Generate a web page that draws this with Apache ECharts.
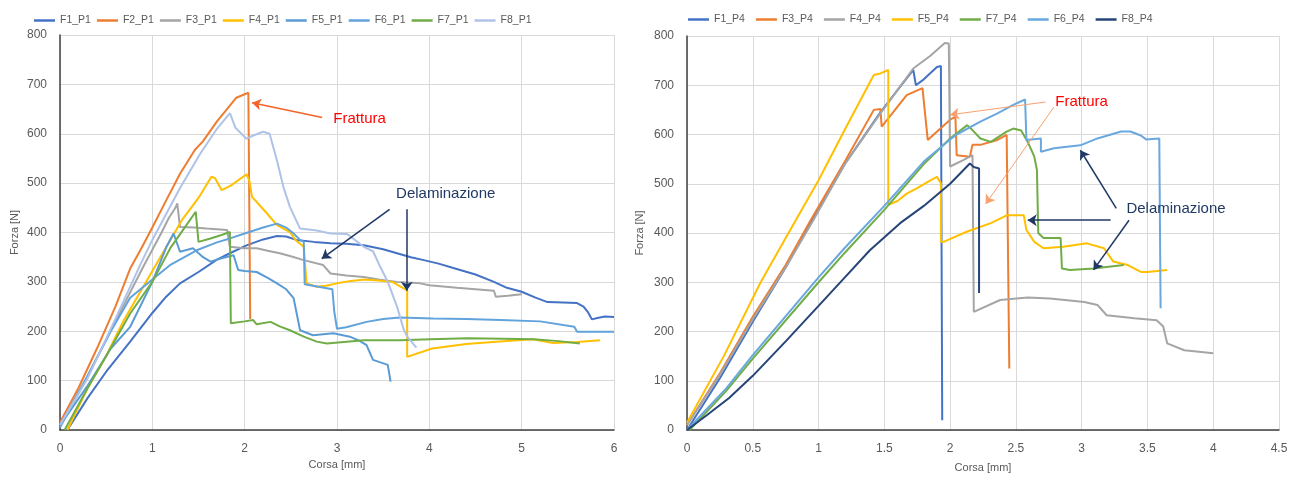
<!DOCTYPE html>
<html>
<head>
<meta charset="utf-8">
<script src="https://cdn.jsdelivr.net/npm/echarts@6/dist/echarts.min.js"></script>
<style>
  html, body { margin: 0; padding: 0; background: #fff; }
  #chart { width: 1300px; height: 480px; }
</style>
</head>
<body>
<div id="chart"></div>
<script>
// ---- Prova P1: corsa [mm] / forza [N] ----
const namesP1 = ['F1_P1', 'F2_P1', 'F3_P1', 'F4_P1', 'F5_P1', 'F6_P1', 'F7_P1', 'F8_P1'];

const f1p1 = [[0.08,0],[0.3,65],[0.5,118],[0.76,179],[1.0,237],[1.15,270],[1.3,297],[1.5,320],[1.7,345],[1.84,358],[2.02,374],[2.2,386],[2.35,393],[2.45,392],[2.56,385],[2.75,381],[2.93,378],[3.1,377],[3.29,374],[3.5,366],[3.65,358],[3.8,350],[3.94,344],[4.1,337],[4.26,328],[4.5,315],[4.7,300],[4.84,288],[5.0,280],[5.15,268],[5.28,259],[5.45,258],[5.6,257],[5.67,250],[5.72,238],[5.76,224],[5.82,227],[5.9,230],[6.0,229]];
const f2p1 = [[0,15],[0.2,85],[0.4,165],[0.6,250],[0.76,327],[0.87,364],[1.0,410],[1.15,465],[1.3,519],[1.46,567],[1.55,585],[1.7,625],[1.8,648],[1.91,673],[2.0,680],[2.04,683],[2.06,681],[2.06,225]];
const f3p1 = [[0,10],[0.3,110],[0.6,220],[0.9,330],[1.1,400],[1.18,430],[1.25,450],[1.27,459],[1.3,411],[1.45,410],[1.59,408],[1.81,405],[1.84,371],[1.99,368],[2.13,368],[2.25,363],[2.38,358],[2.5,352],[2.64,344],[2.85,334],[2.93,317],[3.1,313],[3.29,310],[3.45,305],[3.65,300],[3.9,297],[4.0,293],[4.3,288],[4.5,285],[4.7,282],[4.72,270],[4.85,272],[5.0,275]];
const f4p1 = [[0.08,0],[0.3,85],[0.5,150],[0.69,222],[1.0,322],[1.32,425],[1.5,470],[1.64,513],[1.68,510],[1.75,486],[1.85,495],[2.02,518],[2.05,505],[2.08,472],[2.24,439],[2.35,415],[2.49,401],[2.55,385],[2.64,371],[2.67,297],[2.78,290],[2.88,292],[3.0,297],[3.15,302],[3.3,305],[3.45,303],[3.6,300],[3.72,287],[3.76,283],[3.76,148],[4.03,165],[4.4,174],[4.76,179],[5.12,184],[5.34,176],[5.6,178],[5.85,182]];
const f5p1 = [[0,10],[0.3,90],[0.55,165],[0.76,209],[1.0,300],[1.15,370],[1.23,398],[1.3,361],[1.38,365],[1.44,368],[1.55,350],[1.63,341],[1.75,348],[1.88,354],[1.93,324],[2.0,322],[2.13,320],[2.25,308],[2.35,297],[2.45,285],[2.53,267],[2.6,202],[2.74,192],[2.96,196],[3.14,189],[3.25,180],[3.32,172],[3.39,142],[3.55,132],[3.58,98]];
const f6p1 = [[0,5],[0.3,110],[0.55,200],[0.76,268],[1.0,305],[1.2,335],[1.48,364],[1.7,380],[1.84,388],[2.0,398],[2.2,410],[2.35,418],[2.45,410],[2.53,398],[2.6,385],[2.64,381],[2.65,295],[2.8,290],[2.95,285],[2.97,240],[3.0,205],[3.1,208],[3.32,219],[3.5,225],[3.68,228],[4.04,226],[4.4,225],[4.77,223],[5.2,220],[5.57,209],[5.6,199],[6.0,199]];
const f7p1 = [[0.05,0],[0.3,85],[0.5,150],[0.76,236],[1.0,300],[1.2,370],[1.35,410],[1.47,442],[1.5,381],[1.63,388],[1.75,395],[1.84,401],[1.85,216],[2.0,220],[2.09,223],[2.13,214],[2.28,219],[2.38,210],[2.49,202],[2.64,189],[2.78,179],[2.89,175],[3.29,182],[3.68,182],[4.01,184],[4.41,186],[4.8,185],[5.13,184],[5.4,180],[5.63,175]];
const f8p1 = [[0,10],[0.3,105],[0.6,225],[0.87,335],[1.0,385],[1.3,490],[1.52,560],[1.7,610],[1.84,642],[1.9,612],[2.02,590],[2.1,597],[2.2,604],[2.27,600],[2.35,546],[2.42,492],[2.49,452],[2.6,408],[2.78,404],[2.93,398],[3.11,397],[3.29,371],[3.39,362],[3.47,330],[3.55,300],[3.65,250],[3.72,205],[3.76,189],[3.86,167]];

// ---- Prova P4 ----
const namesP4 = ['F1_P4', 'F3_P4', 'F4_P4', 'F5_P4', 'F7_P4', 'F6_P4', 'F8_P4'];

const f1p4 = [[0,0],[0.25,105],[0.5,220],[0.75,330],[0.95,426],[1.2,540],[1.47,645],[1.6,690],[1.72,731],[1.74,700],[1.8,712],[1.9,737],[1.93,739],[1.94,20]];
const f3p4 = [[0,10],[0.25,115],[0.5,230],[0.75,335],[0.94,426],[1.2,545],[1.42,650],[1.47,652],[1.48,616],[1.67,680],[1.79,694],[1.8,690],[1.83,589],[2.0,630],[2.04,636],[2.05,558],[2.15,555],[2.17,579],[2.23,579],[2.36,589],[2.43,599],[2.44,599],[2.45,125]];
const f4p4 = [[0,10],[0.25,112],[0.5,225],[0.75,330],[0.96,426],[1.2,540],[1.47,643],[1.6,690],[1.72,734],[1.85,760],[1.96,786],[1.99,785],[2.0,535],[2.1,548],[2.17,558],[2.18,240],[2.38,264],[2.59,269],[2.76,267],[3.02,260],[3.12,254],[3.19,233],[3.4,227],[3.57,223],[3.62,210],[3.65,176],[3.78,162],[4.0,156]];
const f5p4 = [[0,15],[0.28,150],[0.56,300],[0.75,390],[1.0,507],[1.2,610],[1.42,721],[1.47,724],[1.53,731],[1.53,457],[1.6,465],[1.67,480],[1.75,491],[1.85,507],[1.9,514],[1.93,501],[1.93,382],[1.95,382],[2.13,403],[2.31,420],[2.43,436],[2.56,436],[2.58,406],[2.64,382],[2.71,369],[2.86,372],[3.04,379],[3.17,369],[3.24,342],[3.35,335],[3.45,321],[3.5,321],[3.65,325]];
const f7p4 = [[0.02,0],[0.3,80],[0.5,145],[1.0,300],[1.2,360],[1.5,447],[1.8,540],[2.0,592],[2.13,619],[2.17,609],[2.23,592],[2.31,585],[2.43,606],[2.48,612],[2.54,608],[2.59,585],[2.64,555],[2.66,528],[2.67,400],[2.71,390],[2.84,390],[2.85,328],[2.91,325],[3.09,328],[3.32,335]];
const f6p4 = [[0,0],[0.3,85],[0.5,152],[1.0,310],[1.2,370],[1.5,455],[1.8,545],[2.0,590],[2.05,600],[2.23,626],[2.36,643],[2.48,660],[2.57,671],[2.58,673],[2.58,589],[2.69,592],[2.69,565],[2.79,572],[2.99,578],[3.12,592],[3.3,606],[3.37,606],[3.45,598],[3.49,590],[3.59,592],[3.6,592],[3.6,247]];
const f8p4 = [[0,0],[0.15,30],[0.32,65],[0.5,110],[0.75,180],[1.0,252],[1.2,310],[1.39,365],[1.62,420],[1.8,455],[2.0,500],[2.15,541],[2.18,534],[2.22,531],[2.22,278]];

const xTicksP1 = { min: 0, max: 6, interval: 1 };
const xTicksP4 = { min: 0, max: 4.5, interval: 0.5 };
const yTicks = { min: 0, max: 800, interval: 100 };

const coloursP1 = ['#4472C4', '#ED7D31', '#A5A5A5', '#FFC000', '#5B9BD5', '#62A3DC', '#70AD47', '#AFC2E8'];
const coloursP4 = ['#4472C4', '#ED7D31', '#A5A5A5', '#FFC000', '#70AD47', '#68A8DF', '#264478'];

const FONT = "'Liberation Sans', Arial, sans-serif";
const AXIS_TXT = '#595959';
const NAVY = '#203864';
const ORANGE_ARROW = '#F4642A';

function curve(name, data, colour, idx) {
  return {
    name, type: 'line', data, xAxisIndex: idx, yAxisIndex: idx,
    showSymbol: false, symbol: 'none', smooth: false,
    lineStyle: { width: 2, color: colour }, itemStyle: { color: colour },
    emphasis: { disabled: true }, animation: false, z: 3
  };
}

function arrow(from, to, colour, width) {
  return [
    { coord: from, lineStyle: { color: colour, width: width, type: 'solid' } },
    { coord: to }
  ];
}

function note(text, at, colour) {
  return {
    name: text, coord: at, symbol: 'circle', symbolSize: 0,
    label: { show: true, position: 'right', distance: 0, formatter: '{b}',
             color: colour, fontSize: 15, fontFamily: FONT }
  };
}

function annotations(idx, arrows, notes) {
  return {
    name: 'annot' + idx, type: 'line', data: [], xAxisIndex: idx, yAxisIndex: idx,
    silent: true, animation: false, z: 5,
    markLine: { silent: true, animation: false, symbol: ['none', 'arrow'], symbolSize: 9,
                label: { show: false }, data: arrows },
    markPoint: { silent: true, animation: false, data: notes }
  };
}

const p1Data = [f1p1, f2p1, f3p1, f4p1, f5p1, f6p1, f7p1, f8p1];
const p4Data = [f1p4, f3p4, f4p4, f5p4, f7p4, f6p4, f8p4];

const series = [];
namesP1.forEach((n, i) => series.push(curve(n, p1Data[i], coloursP1[i], 0)));
namesP4.forEach((n, i) => series.push(curve(n, p4Data[i], coloursP4[i], 1)));

series.push(annotations(0, [
  arrow([2.84, 633], [2.08, 663], ORANGE_ARROW, 1.5),
  arrow([3.57, 447], [2.835, 347], NAVY, 1.5),
  arrow([3.756, 447], [3.756, 282], NAVY, 1.5)
], [
  note('Frattura', [2.96, 631], '#FF0000'),
  note('Delaminazione', [3.64, 478], NAVY)
]));
series.push(annotations(1, [
  arrow([2.725, 666], [2.0, 640], '#F8A070', 1),
  arrow([2.79, 656], [2.27, 459], '#F8A070', 1),
  arrow([3.263, 450], [2.99, 568], NAVY, 1.5),
  arrow([3.22, 426], [2.59, 426], NAVY, 1.5),
  arrow([3.36, 426], [3.09, 325], NAVY, 1.5)
], [
  note('Frattura', [2.80, 666], '#FF0000'),
  note('Delaminazione', [3.34, 450], NAVY)
]));

function xAxis(idx, ticks, gap) {
  return {
    type: 'value', gridIndex: idx, min: ticks.min, max: ticks.max, interval: ticks.interval,
    name: 'Corsa [mm]', nameLocation: 'middle', nameGap: gap,
    nameTextStyle: { color: AXIS_TXT, fontSize: 11, fontFamily: FONT },
    axisLine: { show: true, onZero: false, lineStyle: { color: '#404040', width: 1.5 } },
    axisTick: { show: false },
    axisLabel: { color: AXIS_TXT, fontSize: 12, fontFamily: FONT, margin: 13 },
    splitLine: { show: true, lineStyle: { color: '#D9D9D9', width: 1 } }
  };
}
function yAxis(idx, gap) {
  return {
    type: 'value', gridIndex: idx, min: yTicks.min, max: yTicks.max, interval: yTicks.interval,
    name: 'Forza [N]', nameLocation: 'middle', nameGap: gap, nameRotate: 90,
    nameTextStyle: { color: AXIS_TXT, fontSize: 11, fontFamily: FONT },
    axisLine: { show: true, onZero: false, lineStyle: { color: '#404040', width: 1.5 } },
    axisTick: { show: false },
    axisLabel: { color: AXIS_TXT, fontSize: 12, fontFamily: FONT, margin: 13 },
    splitLine: { show: true, lineStyle: { color: '#D9D9D9', width: 1 } }
  };
}
function legend(names, left, top, gap) {
  return {
    data: names, left, top, orient: 'horizontal', itemGap: gap,
    icon: 'rect', itemWidth: 21, itemHeight: 2.5,
    textStyle: { color: AXIS_TXT, fontSize: 10.5, fontFamily: FONT, padding: [0, 0, 0, 0] },
    selectedMode: false
  };
}

const chart = echarts.init(document.getElementById('chart'), null, { renderer: 'canvas' });
chart.setOption({
  animation: false,
  backgroundColor: '#ffffff',
  grid: [
    { left: 60, top: 35, width: 554, height: 395 },
    { left: 687, top: 36, width: 592, height: 394 }
  ],
  xAxis: [xAxis(0, xTicksP1, 27), xAxis(1, xTicksP4, 32)],
  yAxis: [yAxis(0, 40), yAxis(1, 42)],
  legend: [legend(namesP1, 29, 10, 6), legend(namesP4, 683, 9, 11)],
  series
});
</script>
</body>
</html>
